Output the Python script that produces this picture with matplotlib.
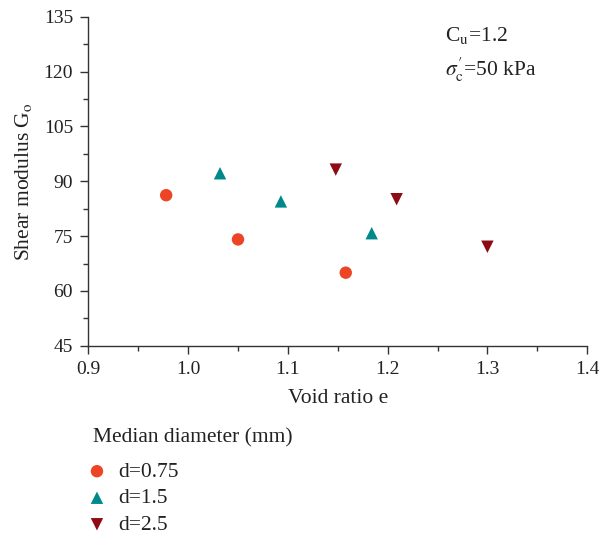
import matplotlib
matplotlib.use("Agg")
import matplotlib.pyplot as plt
from matplotlib.ticker import MultipleLocator
import numpy as np

# data
e_075 = [0.978, 1.050, 1.158]
g_075 = [86.2, 74.1, 65.0]
e_15 = [1.032, 1.093, 1.184]
g_15 = [92.2, 84.5, 75.8]
e_25 = [1.148, 1.209, 1.300]
g_25 = [93.2, 85.1, 72.1]

labels = ["d=0.75", "d=1.5", "d=2.5"]
xticks = [0.9, 1.0, 1.1, 1.2, 1.3, 1.4]
yticks = [45, 60, 75, 90, 105, 120, 135]

plt.rcParams['font.family'] = ['Liberation Serif', 'DejaVu Serif']
plt.rcParams['mathtext.fontset'] = 'stix'

fs = 15.5
txt = '#222222'

fig = plt.figure(figsize=(6.01, 5.42), dpi=100)
ax = fig.add_axes([0.147, 0.362, 0.830, 0.607])

ax.scatter(e_075, g_075, marker='o', s=80, color='#EE4426', edgecolors='none', label=labels[0])
ax.scatter(e_15, g_15, marker='^', s=80, color='#00898A', edgecolors='none', label=labels[1])
ax.scatter(e_25, g_25, marker='v', s=80, color='#8E0B16', edgecolors='none', label=labels[2])

ax.set_xlim(0.9, 1.4)
ax.set_ylim(45, 135)
ax.set_xticks(xticks)
ax.set_yticks(yticks)
ax.set_xticklabels([f"{v:.1f}" for v in xticks])
ax.xaxis.set_minor_locator(MultipleLocator(0.05))
ax.yaxis.set_minor_locator(MultipleLocator(7.5))
ax.spines['top'].set_visible(False)
ax.spines['right'].set_visible(False)
for s in ['left', 'bottom']:
    ax.spines[s].set_color('#333333')
    ax.spines[s].set_linewidth(1.0)
ax.tick_params(which='major', direction='out', length=6, width=1.0, colors='#333333',
               labelsize=14, labelcolor=txt, pad=5)
ax.tick_params(which='minor', direction='out', length=3.5, width=1.0, colors='#333333')

ax.set_xlabel("Void ratio e", fontsize=fs, color=txt, labelpad=8)
ax.set_ylabel(r"Shear modulus G$_{\mathrm{o}}$", fontsize=fs, color=txt, labelpad=7)

ax.text(0.715, 0.942, r"C$_{\mathrm{u}}$=1.2", transform=ax.transAxes, fontsize=fs, color=txt, va='center')
ax.text(0.715, 0.839, r"$\sigma_{\mathrm{c}}'$=50 kPa", transform=ax.transAxes, fontsize=fs, color=txt, va='center')

# legend title drawn separately so the gap below it can be set
fig.text(93 / 601, 1 - 438 / 542, "Median diameter (mm)", fontsize=fs, color=txt, va='center', ha='left')
leg = fig.legend(loc='upper left', bbox_to_anchor=(0.147, 0.148), frameon=False,
                 fontsize=fs, handletextpad=0.59, labelspacing=0.30, handlelength=0.8,
                 borderaxespad=0, borderpad=0)
for t in leg.get_texts():
    t.set_color(txt)

fig.savefig("out.png", dpi=100)
